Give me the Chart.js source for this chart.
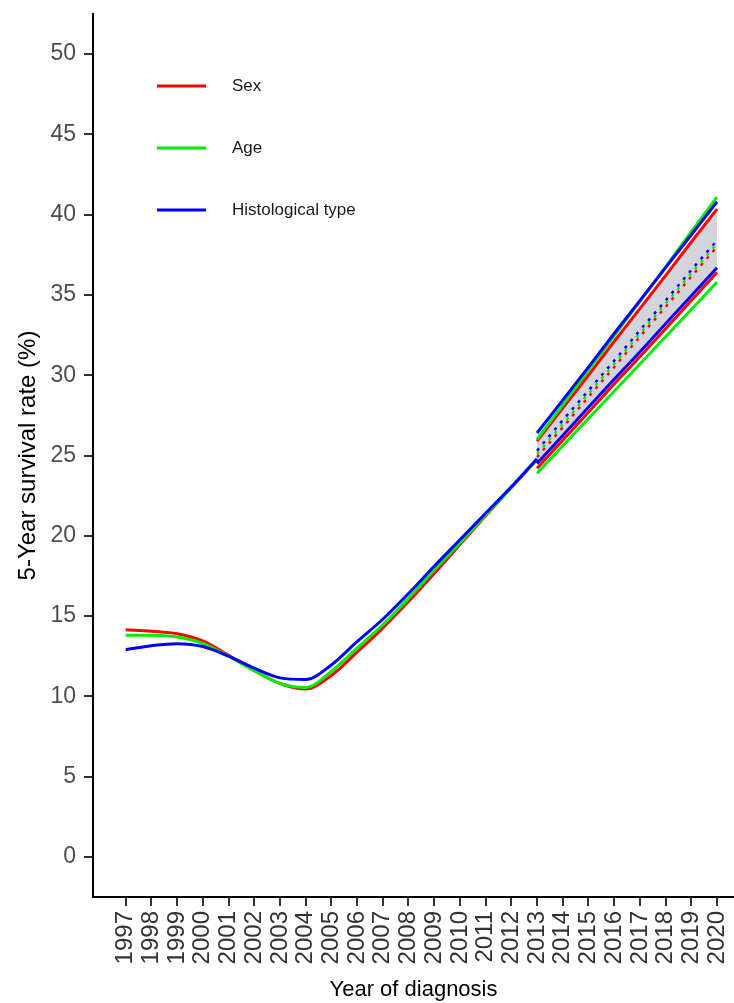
<!DOCTYPE html>
<html>
<head>
<meta charset="utf-8">
<script src="https://cdn.jsdelivr.net/npm/chart.js@4.4.1/dist/chart.umd.min.js"></script>
<style>
  html, body { margin: 0; padding: 0; background: #fff; }
  #myChart { display: block; }
</style>
</head>
<body>
<canvas id="myChart" width="734" height="1003"></canvas>
<script>
// Tasa de supervivencia a 5 años: ajuste 1997-2013 y proyección 2013-2020

const nombres = ['Sex', 'Age', 'Histological type'];
const colores = ['#ff0000', '#00ee00', '#0000ff'];

const aniosAjuste = [1997, 1998, 1999, 2000, 2001, 2002, 2003, 2004, 2005, 2006, 2007, 2008, 2009, 2010, 2011, 2012, 2013];
const ajusteSex  = [14.15, 14.05, 13.9, 13.45, 12.55, 11.6, 10.8, 10.45, 11.3, 12.75, 14.25, 15.9, 17.65, 19.45, 21.25, 23.0, 24.75];
const ajusteAge  = [13.8, 13.8, 13.7, 13.3, 12.5, 11.6, 10.8, 10.55, 11.55, 13.0, 14.45, 16.1, 17.85, 19.55, 21.3, 23.0, 24.75];
const ajusteHist = [12.9, 13.15, 13.28, 13.1, 12.5, 11.75, 11.15, 11.05, 11.95, 13.4, 14.8, 16.4, 18.1, 19.75, 21.4, 23.05, 24.8];

const aniosProy = [2013, 2014, 2015, 2016, 2017, 2018, 2019, 2020];
const altoSex   = [25.9, 27.95, 30.0, 32.1, 34.15, 36.2, 38.3, 40.35];
const altoAge   = [26.0, 28.15, 30.3, 32.45, 34.6, 36.75, 38.95, 41.1];
const altoHist  = [26.4, 28.45, 30.5, 32.6, 34.65, 36.7, 38.75, 40.8];
const medioSex  = [24.9, 26.75, 28.65, 30.5, 32.4, 34.25, 36.15, 38.0];
const medioAge  = [25.1, 26.95, 28.85, 30.7, 32.6, 34.45, 36.35, 38.2];
const medioHist = [25.3, 27.2, 29.05, 30.9, 32.8, 34.65, 36.55, 38.4];
const bajoSex   = [24.2, 25.95, 27.7, 29.45, 31.15, 32.9, 34.65, 36.4];
const bajoAge   = [23.9, 25.6, 27.3, 29.0, 30.7, 32.4, 34.1, 35.8];
const bajoHist  = [24.5, 26.25, 28.0, 29.75, 31.45, 33.2, 34.95, 36.7];

const ticksX = [1997, 1998, 1999, 2000, 2001, 2002, 2003, 2004, 2005, 2006, 2007, 2008, 2009, 2010, 2011, 2012, 2013, 2014, 2015, 2016, 2017, 2018, 2019, 2020];
const ticksY = [0, 5, 10, 15, 20, 25, 30, 35, 40, 45, 50];

function puntos(xs, ys) {
  return xs.map((x, i) => ({ x: x, y: ys[i] }));
}

const ajustes = [ajusteSex, ajusteAge, ajusteHist];
const altos = [altoSex, altoAge, altoHist];
const medios = [medioSex, medioAge, medioHist];
const bajos = [bajoSex, bajoAge, bajoHist];

const datasets = [];
// banda gris de la proyección
datasets.push({
  label: 'banda_alto', data: puntos(aniosProy, altoSex),
  borderWidth: 0, pointRadius: 0, fill: '+1', backgroundColor: 'rgba(205,206,212,0.85)', order: 10
});
datasets.push({
  label: 'banda_bajo', data: puntos(aniosProy, bajoHist),
  borderWidth: 0, pointRadius: 0, fill: false, order: 10
});

for (let i = 0; i < 3; i++) {
  const orden = 3 - i;
  datasets.push({
    label: nombres[i], data: puntos(aniosAjuste, ajustes[i]),
    borderColor: colores[i], borderWidth: 3, pointRadius: 0,
    cubicInterpolationMode: 'monotone', fill: false, order: orden
  });
  datasets.push({
    label: nombres[i] + ' alto', data: puntos(aniosProy, altos[i]),
    borderColor: colores[i], borderWidth: 3, pointRadius: 0, fill: false, order: orden
  });
  datasets.push({
    label: nombres[i] + ' medio', data: puntos(aniosProy, medios[i]),
    borderColor: colores[i], borderWidth: 2.5, borderDash: [3, 6], pointRadius: 0, fill: false, order: orden
  });
  datasets.push({
    label: nombres[i] + ' bajo', data: puntos(aniosProy, bajos[i]),
    borderColor: colores[i], borderWidth: 3, pointRadius: 0, fill: false, order: orden
  });
}

// Leyenda dentro del área del gráfico
const leyenda = {
  id: 'leyenda',
  afterDraw(chart) {
    const ctx = chart.ctx;
    ctx.save();
    nombres.forEach((n, i) => {
      const y = 86 + i * 62;
      ctx.strokeStyle = colores[i];
      ctx.lineWidth = 3;
      ctx.beginPath();
      ctx.moveTo(157, y);
      ctx.lineTo(206, y);
      ctx.stroke();
      ctx.fillStyle = '#1a1a1a';
      ctx.font = '17px "Liberation Sans", Arial, sans-serif';
      ctx.textBaseline = 'middle';
      ctx.fillText(n, 232, y);
    });
    ctx.restore();
  }
};

const config = {
  type: 'line',
  data: { datasets: datasets },
  options: {
    responsive: false,
    animation: false,
    devicePixelRatio: 1,
    layout: { padding: { top: 14, right: 0, left: 0, bottom: 0 } },
    plugins: {
      legend: { display: false },
      tooltip: { enabled: false },
      filler: { drawTime: 'beforeDatasetsDraw' }
    },
    scales: {
      x: {
        type: 'linear',
        min: 1995.73,
        max: 2020.66,
        afterBuildTicks: (scale) => { scale.ticks = ticksX.map(v => ({ value: v })); },
        afterFit: (scale) => {
          scale.height = 106;
          scale.paddingLeft = 0;
          scale.paddingRight = 0;
        },
        grid: { drawOnChartArea: false, drawTicks: true, tickLength: 9, color: '#333', lineWidth: 2 },
        border: { display: true, color: '#000', width: 2 },
        ticks: {
          autoSkip: false, maxRotation: 90, minRotation: 90, padding: 5,
          color: '#333', font: { size: 24, family: '"Liberation Sans", Arial, sans-serif' },
          callback: (v) => String(v)
        },
        title: {
          display: true, text: 'Year of diagnosis', color: '#000',
          font: { size: 22, family: '"Liberation Sans", Arial, sans-serif' },
          padding: { top: 0, bottom: 0 }
        }
      },
      y: {
        min: -2.5,
        max: 52.5,
        afterBuildTicks: (scale) => { scale.ticks = ticksY.map(v => ({ value: v })); },
        afterFit: (scale) => {
          scale.width = 93;
          scale.paddingTop = 0;
          scale.paddingBottom = 0;
        },
        grid: { drawOnChartArea: false, drawTicks: true, tickLength: 9, color: '#333', lineWidth: 2 },
        border: { display: true, color: '#000', width: 2 },
        ticks: {
          padding: 8, color: '#4d4d4d',
          font: { size: 23, family: '"Liberation Sans", Arial, sans-serif' }
        },
        title: {
          display: true, text: '5-Year survival rate (%)', color: '#000',
          font: { size: 24, family: '"Liberation Sans", Arial, sans-serif' },
          padding: { top: 14, bottom: 0 }
        }
      }
    }
  },
  plugins: [leyenda]
};

var myChart = new Chart(document.getElementById('myChart'), config);
</script>
</body>
</html>
